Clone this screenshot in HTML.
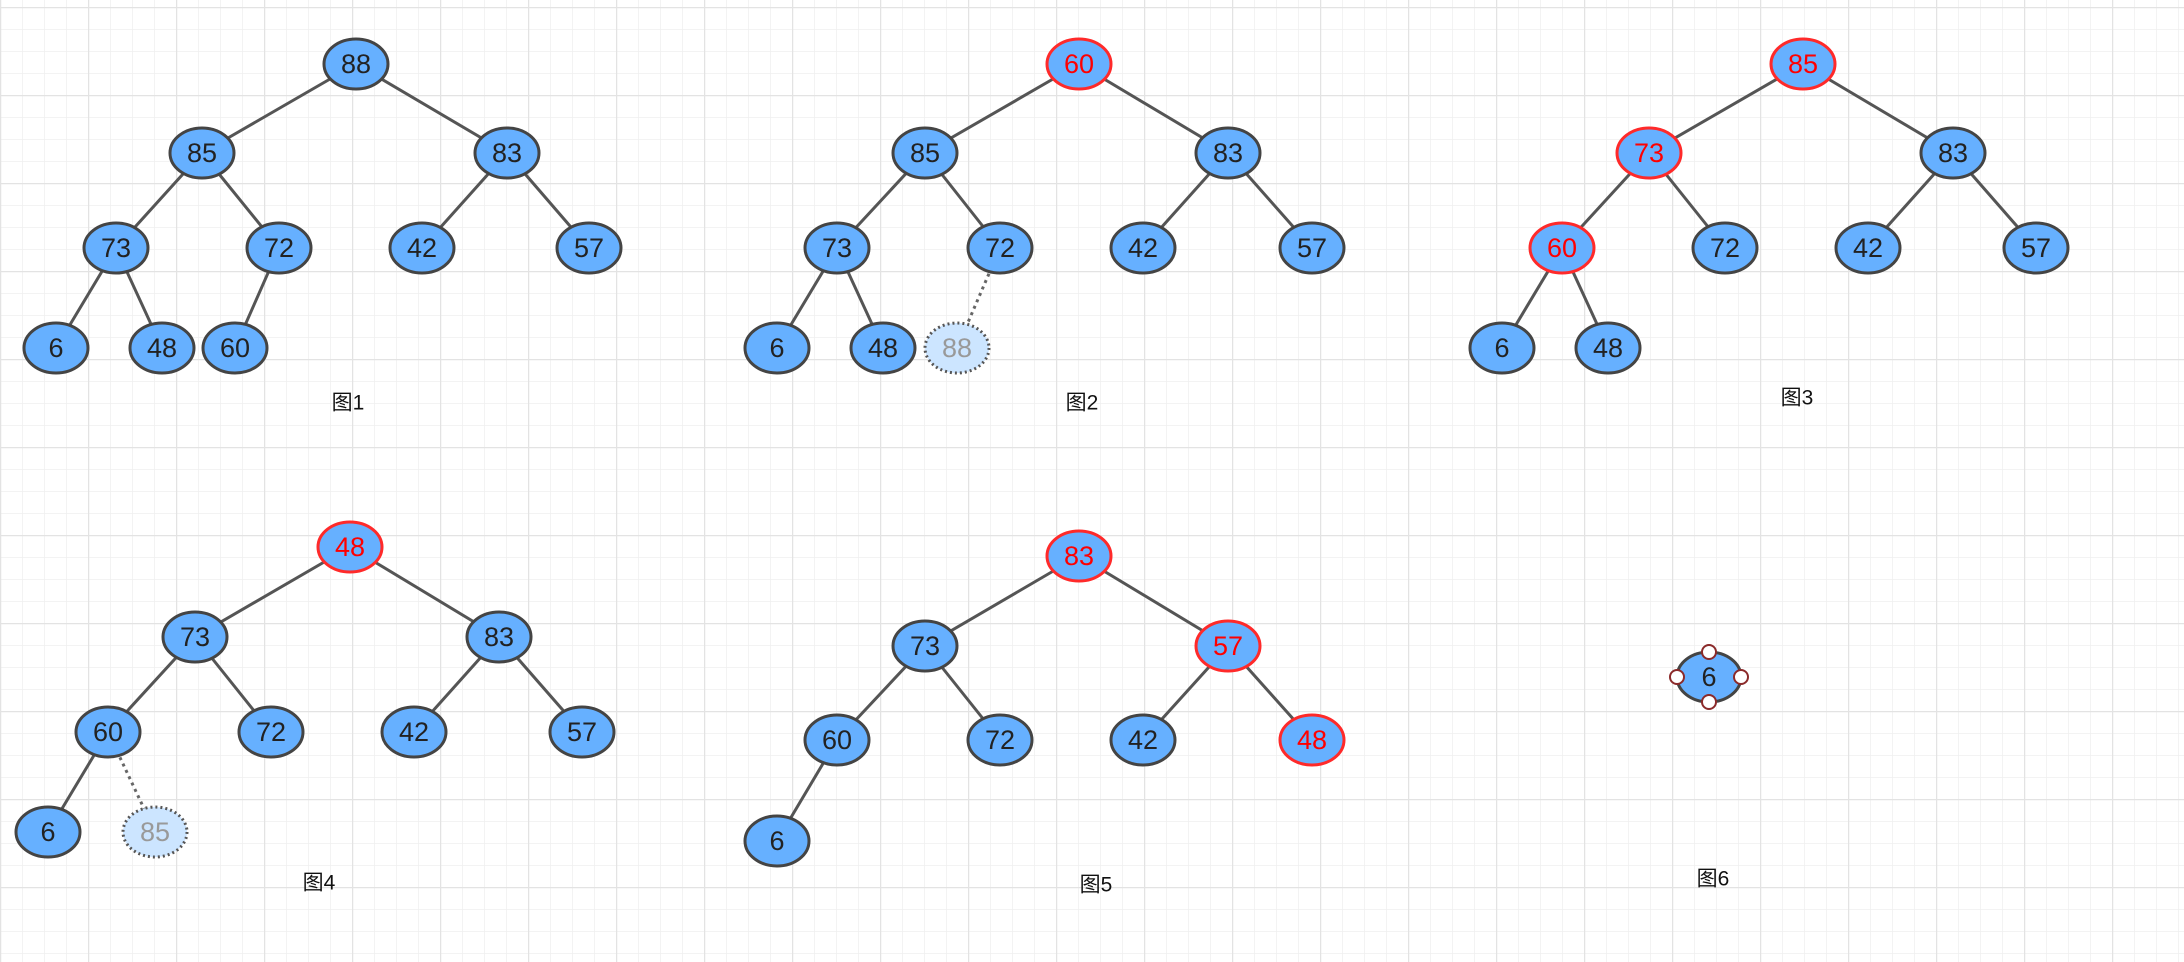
<!DOCTYPE html>
<html><head><meta charset="utf-8"><style>
html,body{margin:0;padding:0;background:#fff}
svg{display:block}
text{font-family:"Liberation Sans","Noto Sans CJK SC",sans-serif}
</style></head><body>
<svg width="2184" height="962" viewBox="0 0 2184 962" xmlns="http://www.w3.org/2000/svg">
<defs>
<pattern id="minor" width="22" height="22" patternUnits="userSpaceOnUse" x="0" y="7">
<path d="M0 0H22M0 0V22" stroke="#efefef" stroke-width="1.5" fill="none"/>
</pattern>
<pattern id="major" width="88" height="88" patternUnits="userSpaceOnUse" x="0" y="7">
<path d="M0 0H88M0 0V88" stroke="#e3e3e3" stroke-width="2.5" fill="none"/>
</pattern>
</defs>
<rect width="2184" height="962" fill="url(#minor)"/>
<rect width="2184" height="962" fill="url(#major)"/>

<g stroke="#555" stroke-width="3" fill="none">
<!-- fig1 -->
<path d="M356 64L202 153M356 64L507 153M202 153L116 248M202 153L279 248M507 153L422 248M507 153L589 248M116 248L56 348M116 248L162 348M279 248L235 348"/>
<!-- fig2 -->
<path d="M1079 64L925 153M1079 64L1228 153M925 153L837 248M925 153L1000 248M1228 153L1143 248M1228 153L1312 248M837 248L777 348M837 248L883 348"/>
<!-- fig3 -->
<path d="M1803 64L1649 153M1803 64L1953 153M1649 153L1562 248M1649 153L1725 248M1953 153L1868 248M1953 153L2036 248M1562 248L1502 348M1562 248L1608 348"/>
<!-- fig4 -->
<path d="M350 547L195 637M350 547L499 637M195 637L108 732M195 637L271 732M499 637L414 732M499 637L582 732M108 732L48 832"/>
<!-- fig5 -->
<path d="M1079 556L925 646M1079 556L1228 646M925 646L837 740M925 646L1000 740M1228 646L1143 740M1228 646L1312 740M837 740L777 841"/>
</g>
<g stroke="#666" stroke-width="3" stroke-dasharray="3 4" fill="none">
<path d="M1000 248L957 348"/>
<path d="M108 732L155 832"/>
</g>

<g font-size="27" text-anchor="middle" dominant-baseline="central">
<!-- normal nodes -->
<g fill="#66b0ff" stroke="#444" stroke-width="3">
<ellipse cx="356" cy="64" rx="32" ry="25"/><ellipse cx="202" cy="153" rx="32" ry="25"/><ellipse cx="507" cy="153" rx="32" ry="25"/>
<ellipse cx="116" cy="248" rx="32" ry="25"/><ellipse cx="279" cy="248" rx="32" ry="25"/><ellipse cx="422" cy="248" rx="32" ry="25"/><ellipse cx="589" cy="248" rx="32" ry="25"/>
<ellipse cx="56" cy="348" rx="32" ry="25"/><ellipse cx="162" cy="348" rx="32" ry="25"/><ellipse cx="235" cy="348" rx="32" ry="25"/>

<ellipse cx="925" cy="153" rx="32" ry="25"/><ellipse cx="1228" cy="153" rx="32" ry="25"/>
<ellipse cx="837" cy="248" rx="32" ry="25"/><ellipse cx="1000" cy="248" rx="32" ry="25"/><ellipse cx="1143" cy="248" rx="32" ry="25"/><ellipse cx="1312" cy="248" rx="32" ry="25"/>
<ellipse cx="777" cy="348" rx="32" ry="25"/><ellipse cx="883" cy="348" rx="32" ry="25"/>

<ellipse cx="1953" cy="153" rx="32" ry="25"/>
<ellipse cx="1725" cy="248" rx="32" ry="25"/><ellipse cx="1868" cy="248" rx="32" ry="25"/><ellipse cx="2036" cy="248" rx="32" ry="25"/>
<ellipse cx="1502" cy="348" rx="32" ry="25"/><ellipse cx="1608" cy="348" rx="32" ry="25"/>

<ellipse cx="195" cy="637" rx="32" ry="25"/><ellipse cx="499" cy="637" rx="32" ry="25"/>
<ellipse cx="108" cy="732" rx="32" ry="25"/><ellipse cx="271" cy="732" rx="32" ry="25"/><ellipse cx="414" cy="732" rx="32" ry="25"/><ellipse cx="582" cy="732" rx="32" ry="25"/>
<ellipse cx="48" cy="832" rx="32" ry="25"/>

<ellipse cx="925" cy="646" rx="32" ry="25"/>
<ellipse cx="837" cy="740" rx="32" ry="25"/><ellipse cx="1000" cy="740" rx="32" ry="25"/><ellipse cx="1143" cy="740" rx="32" ry="25"/>
<ellipse cx="777" cy="841" rx="32" ry="25"/>

<ellipse cx="1709" cy="677" rx="32" ry="25"/>
</g>
<g fill="#66b0ff" stroke="#ff2a2a" stroke-width="3">
<ellipse cx="1079" cy="64" rx="32" ry="25"/>
<ellipse cx="1803" cy="64" rx="32" ry="25"/><ellipse cx="1649" cy="153" rx="32" ry="25"/><ellipse cx="1562" cy="248" rx="32" ry="25"/>
<ellipse cx="350" cy="547" rx="32" ry="25"/>
<ellipse cx="1079" cy="556" rx="32" ry="25"/><ellipse cx="1228" cy="646" rx="32" ry="25"/><ellipse cx="1312" cy="740" rx="32" ry="25"/>
</g>
<g fill="#cce5ff" stroke="#555" stroke-width="3" stroke-dasharray="2 3">
<ellipse cx="957" cy="348" rx="32" ry="25"/>
<ellipse cx="155" cy="832" rx="32" ry="25"/>
</g>
<g fill="#fff" stroke="#8b2a2a" stroke-width="2">
<circle cx="1709" cy="652" r="7"/><circle cx="1709" cy="702" r="7"/><circle cx="1677" cy="677" r="7"/><circle cx="1741" cy="677" r="7"/>
</g>

<g fill="#222">
<text x="356" y="64">88</text><text x="202" y="153">85</text><text x="507" y="153">83</text>
<text x="116" y="248">73</text><text x="279" y="248">72</text><text x="422" y="248">42</text><text x="589" y="248">57</text>
<text x="56" y="348">6</text><text x="162" y="348">48</text><text x="235" y="348">60</text>

<text x="925" y="153">85</text><text x="1228" y="153">83</text>
<text x="837" y="248">73</text><text x="1000" y="248">72</text><text x="1143" y="248">42</text><text x="1312" y="248">57</text>
<text x="777" y="348">6</text><text x="883" y="348">48</text>

<text x="1953" y="153">83</text>
<text x="1725" y="248">72</text><text x="1868" y="248">42</text><text x="2036" y="248">57</text>
<text x="1502" y="348">6</text><text x="1608" y="348">48</text>

<text x="195" y="637">73</text><text x="499" y="637">83</text>
<text x="108" y="732">60</text><text x="271" y="732">72</text><text x="414" y="732">42</text><text x="582" y="732">57</text>
<text x="48" y="832">6</text>

<text x="925" y="646">73</text>
<text x="837" y="740">60</text><text x="1000" y="740">72</text><text x="1143" y="740">42</text>
<text x="777" y="841">6</text>

<text x="1709" y="677">6</text>
</g>
<g fill="#ff0000">
<text x="1079" y="64">60</text>
<text x="1803" y="64">85</text><text x="1649" y="153">73</text><text x="1562" y="248">60</text>
<text x="350" y="547">48</text>
<text x="1079" y="556">83</text><text x="1228" y="646">57</text><text x="1312" y="740">48</text>
</g>
<g fill="#999">
<text x="957" y="348">88</text>
<text x="155" y="832">85</text>
</g>
</g>

<g font-size="21" fill="#111" text-anchor="middle" dominant-baseline="central">
<text x="348" y="403">图1</text>
<text x="1082" y="403">图2</text>
<text x="1797" y="398">图3</text>
<text x="319" y="883">图4</text>
<text x="1096" y="885">图5</text>
<text x="1713" y="879">图6</text>
</g>
</svg>
</body></html>
